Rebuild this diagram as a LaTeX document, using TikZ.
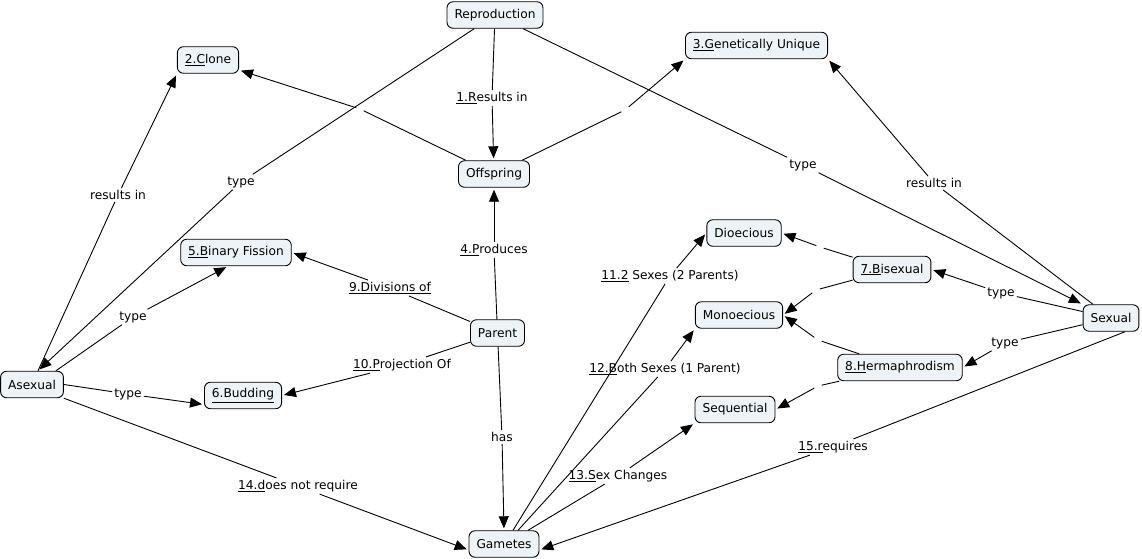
\documentclass[tikz,border=0pt]{standalone}
\usepackage{fontspec}
\setmainfont{DejaVu Sans}
\usetikzlibrary{arrows.meta}
\definecolor{boxfill}{HTML}{EDF3F6}
\tikzset{
  concept/.style={draw=black, fill=boxfill, rounded corners=6pt, line width=0.9pt,
    minimum height=26.5pt, inner xsep=7.5pt, inner ysep=2pt,
    font=\fontsize{12.2}{14}\selectfont},
  lbl/.style={inner sep=2pt, font=\fontsize{12.2}{14}\selectfont, fill=none},
  gap/.style={inner sep=0pt, minimum size=7pt},
  edge/.style={line width=0.9pt, draw=black},
  arr/.style={edge, -{Triangle[length=12pt,width=10pt]}, shorten >=2pt}
}
\newcommand\lnk[3]{\draw[edge] (#1) -- (#2); \draw[arr] (#2) -- (#3);}
\begin{document}
\begin{tikzpicture}[x=1pt,y=-1pt]
\useasboundingbox (0,0) rectangle (1142,558);
% concepts
\node[concept] (repro) at (495,15) {Reproduction};
\node[concept] (clone) at (208,60) {\underline{2.C}lone};
\node[concept] (uniq) at (756.5,45.5) {\underline{3.G}enetically Unique};
\node[concept] (off) at (494,174) {Offspring};
\node[concept] (bin) at (236,252.5) {\underline{5.B}inary Fission};
\node[concept] (dio) at (744,233) {Dioecious};
\node[concept] (bis) at (892,269.5) {\underline{7.B}isexual};
\node[concept] (mono) at (739,315) {Monoecious};
\node[concept] (par) at (497.5,333) {Parent};
\node[concept] (sex) at (1111,318) {Sexual};
\node[concept] (asex) at (32,384.5) {Asexual};
\node[concept] (bud) at (243,395.5) {\underline{6.Budding}};
\node[concept] (herm) at (900,367.5) {\underline{8.H}ermaphrodism};
\node[concept] (seq) at (735,409.5) {Sequential};
\node[concept] (gam) at (504,544) {Gametes};
% linking phrases
\node[lbl] (l1) at (492,98) {\underline{1.R}esults in};
\node[lbl] (l2) at (241,182) {type};
\node[lbl] (l3) at (803,165) {type};
\node[gap] (g1) at (360,109) {};
\node[gap] (g2) at (625,110) {};
\node[lbl] (l4) at (494,250) {\underline{4.P}roduces};
\node[lbl] (l9) at (390,288) {\underline{9.Divisions of}};
\node[lbl] (l10) at (402,365) {\underline{10.P}rojection Of};
\node[lbl] (lhas) at (502,437) {has};
\node[lbl] (lr1) at (118,195) {results in};
\node[lbl] (lt1) at (133,317) {type};
\node[lbl] (lt2) at (128,394) {type};
\node[lbl] (l14) at (298,486) {\underline{14.d}oes not require};
\node[lbl] (lr2) at (934,183) {results in};
\node[lbl] (lt3) at (1001,293) {type};
\node[lbl] (lt4) at (1005,343) {type};
\node[lbl] (l15) at (833,447) {\underline{15.r}equires};
\node[lbl] (l11) at (670,276) {\underline{11.2} Sexes (2 Parents)};
\node[lbl] (l12) at (665,369) {\underline{12.B}oth Sexes (1 Parent)};
\node[lbl] (l13) at (618,476) {\underline{13.S}ex Changes};
\node[gap] (g3) at (820,247) {};
\node[gap] (g4) at (816,290) {};
\node[gap] (g5) at (818,340) {};
\node[gap] (g6) at (818,386) {};
% links
\lnk{repro}{l1}{off}
\lnk{repro}{l2}{[xshift=6pt]asex.north}
\lnk{repro}{l3}{sex.north west}
\lnk{off}{g1}{clone}
\lnk{off}{g2}{uniq.south west}
\lnk{par}{l4}{off}
\lnk{par}{l9}{bin.east}
\lnk{par}{l10}{bud.east}
\lnk{par}{lhas}{gam.north}
\lnk{[xshift=6pt]asex.north}{lr1}{clone.south west}
\lnk{[xshift=-8pt]asex.north east}{lt1}{[xshift=-8pt]bin.south}
\lnk{asex.east}{lt2}{[yshift=-9pt]bud.west}
\lnk{asex.south east}{l14}{[yshift=-6pt]gam.west}
\lnk{[xshift=-18pt]sex.north}{lr2}{uniq.south east}
\lnk{sex}{lt3}{bis.east}
\lnk{sex}{lt4}{herm.east}
\lnk{[xshift=14pt]sex.south}{l15}{[yshift=-6pt]gam.east}
\lnk{[xshift=9pt]gam.north}{l11}{dio.west}
\lnk{[xshift=14pt]gam.north}{l12}{mono.south west}
\lnk{[xshift=24pt]gam.north}{l13}{seq.south west}
\lnk{bis}{g3}{dio.east}
\lnk{bis}{g4}{mono.east}
\lnk{herm}{g5}{mono.east}
\lnk{herm}{g6}{seq.east}
\end{tikzpicture}
\end{document}
